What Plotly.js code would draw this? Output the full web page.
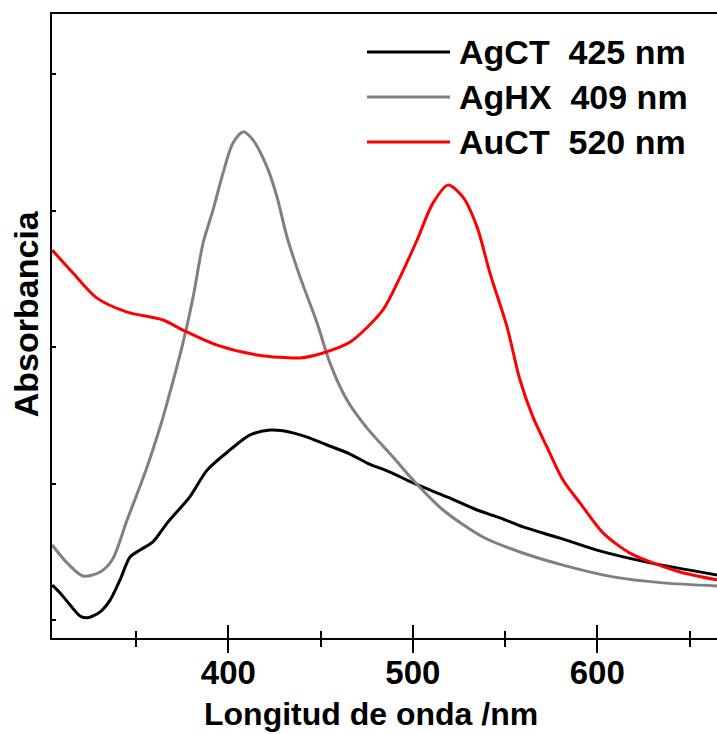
<!DOCTYPE html>
<html>
<head>
<meta charset="utf-8">
<script src="https://cdn.plot.ly/plotly-3.0.1.min.js"></script>
<style>html,body{margin:0;padding:0;background:#fff;}#chart{width:717px;height:734px;}</style>
</head>
<body>
<div id="chart"></div>
<script>
// Wavelength (nm) and absorbance (a.u.)
const agctWl = [304.5,308.8,314.2,319.6,323.5,330.5,335.9,341.3,346.7,352.1,359.2,366.8,379.2,388.5,400.9,411.8,422.6,429.6,442.7,453.5,466,475.2,487.6,500.1,518.5,534.8,547.3,559.7,579.8,599.8,626.9,664.9];
const agctAbs = [0.128,0.099,0.055,0.015,0.008,0.030,0.073,0.147,0.231,0.256,0.287,0.355,0.452,0.549,0.623,0.678,0.696,0.693,0.670,0.641,0.608,0.575,0.542,0.502,0.451,0.403,0.374,0.341,0.300,0.256,0.212,0.165];

const aghxWl = [304.5,312.6,321.2,330.5,337,345.1,355.9,363,365.7,375.4,380.9,386.3,391.7,397.1,402.5,408,413.4,421,426.4,431.8,438.9,448.1,455.1,464.3,475.2,489.3,500.1,516.4,538,558.1,581.4,608.5,635.6,664.9];
const aghxAbs = [0.275,0.209,0.161,0.176,0.220,0.366,0.560,0.707,0.769,1.015,1.183,1.381,1.502,1.637,1.747,1.788,1.758,1.659,1.549,1.403,1.256,1.088,0.941,0.806,0.703,0.597,0.513,0.403,0.304,0.249,0.201,0.158,0.136,0.125];

const auctWl = [304.5,315.8,328.8,345.1,364.6,375.4,393.9,415.6,438.9,451.3,466,483.8,493.1,502.3,510.9,519.1,527.2,534.8,541.8,551.1,558.1,565.1,572.7,581.4,590.6,603.1,617.7,630.2,644.8,664.9];
const auctAbs = [1.355,1.271,1.179,1.128,1.099,1.062,1.007,0.971,0.960,0.978,1.018,1.136,1.256,1.392,1.527,1.593,1.549,1.440,1.271,1.073,0.879,0.744,0.634,0.513,0.429,0.319,0.245,0.209,0.176,0.147];

const seriesNames = ["AgCT  425 nm", "AgHX  409 nm", "AuCT  520 nm"];
const seriesColors = ["#000000", "#808080", "#ff0000"];
const xTickVals = [400, 500, 600];
const xTickText = ["400", "500", "600"];
const xTitle = "Longitud de onda /nm";
const yTitle = "Absorbancia";

const FONT = "Liberation Sans, Arial, Helvetica, sans-serif";
const xs = [agctWl, aghxWl, auctWl];
const ys = [agctAbs, aghxAbs, auctAbs];

const traces = xs.map((x, i) => ({
  x: x, y: ys[i], type: "scatter", mode: "lines",
  name: seriesNames[i],
  line: {color: seriesColors[i], width: 3, shape: "spline", smoothing: 0.8},
  showlegend: false, hoverinfo: "x+y"
}));
// invisible trace to attach the inside-tick overlay axis
traces.push({x: [400], y: [0], xaxis: "x2", type: "scatter", mode: "markers", marker: {opacity: 0}, showlegend: false, hoverinfo: "skip"});

// manual legend (long line samples like the reference)
const legY = [0.939, 0.867, 0.795];
const shapes = [];
const annotations = [];
seriesNames.forEach((n, i) => {
  shapes.push({type: "line", xref: "paper", yref: "paper", x0: 0.4737, x1: 0.5985, y0: legY[i], y1: legY[i], line: {color: seriesColors[i], width: 3}});
  annotations.push({xref: "paper", yref: "paper", x: 0.609, y: legY[i], xanchor: "left", yanchor: "middle", showarrow: false,
    text: n.replace(/  /g, "&nbsp; "), font: {family: FONT, size: 34, color: "#000", weight: "bold"}});
});
// axis titles placed as in the reference
annotations.push({xref: "paper", yref: "paper", x: 0.48, y: -0.121, xanchor: "center", yanchor: "middle", showarrow: false, borderpad: 0,
  text: xTitle, font: {family: FONT, size: 32, color: "#000", weight: "bold"}});
annotations.push({xref: "paper", yref: "paper", x: -0.039, y: 0.519, xanchor: "center", yanchor: "middle", showarrow: false, textangle: -90,
  text: yTitle, font: {family: FONT, size: 34, color: "#000", weight: "bold"}});

const layout = {
  width: 717, height: 734,
  margin: {l: 52, r: 0, t: 14, b: 96},
  paper_bgcolor: "#fff", plot_bgcolor: "#fff",
  showlegend: false,
  xaxis: {
    range: [304.4, 664.9], showgrid: false, zeroline: false,
    showline: true, linecolor: "#000", linewidth: 2, mirror: true,
    ticks: "outside", ticklen: 13, tickwidth: 2, tickcolor: "#000",
    tickvals: xTickVals, ticktext: xTickText, ticklabelstandoff: -9,
    minor: {tickvals: [350, 450, 550, 650], ticks: "outside", ticklen: 7, tickwidth: 2, tickcolor: "#000"},
    tickfont: {family: FONT, size: 33, color: "#000", weight: "bold"}
  },
  xaxis2: {
    overlaying: "x", matches: "x", side: "bottom", showgrid: false, zeroline: false, showline: false,
    ticks: "inside", ticklen: 13, tickwidth: 2, tickcolor: "#000",
    tickvals: xTickVals, showticklabels: false,
    minor: {tickvals: [350, 450, 550, 650], ticks: "inside", ticklen: 7, tickwidth: 2, tickcolor: "#000"}
  },
  yaxis: {
    range: [-0.0659, 2.2198], showgrid: false, zeroline: false,
    showline: true, linecolor: "#000", linewidth: 2, mirror: false,
    ticks: "inside", ticklen: 4, tickwidth: 2, tickcolor: "#000",
    tickvals: [0, 0.5, 1, 1.5, 2], showticklabels: false
  },
  shapes: shapes,
  annotations: annotations
};

Plotly.newPlot("chart", traces, layout, {displayModeBar: false, staticPlot: true});
</script>
</body>
</html>
